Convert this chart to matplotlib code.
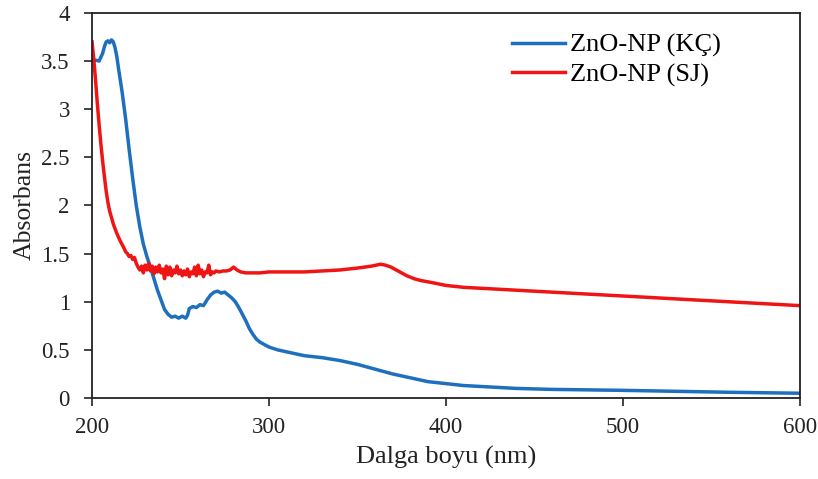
import matplotlib.pyplot as plt

plt.rcParams['font.family'] = ['Liberation Serif', 'DejaVu Serif']

# ZnO-NP (KÇ) spectrum
kc_nm = [200, 202, 204, 206, 207, 208, 209, 210, 211, 212, 213, 214, 215, 217, 219,
         221, 223, 225, 227, 229, 231, 233, 235, 237, 239, 241, 243, 245, 247, 249,
         251, 253, 254, 255, 257, 259, 261, 263, 265, 267, 269, 271, 273, 275, 277,
         279, 281, 283, 285, 287, 289, 291, 293, 295, 298, 300, 305, 310, 315, 320,
         330, 340, 350, 360, 370, 380, 390, 400, 410, 420, 440, 460, 480, 500, 530,
         560, 600]
kc_abs = [3.50, 3.51, 3.50, 3.58, 3.65, 3.70, 3.71, 3.69, 3.72, 3.70, 3.64, 3.55, 3.42, 3.18, 2.90,
          2.58, 2.28, 2.00, 1.78, 1.60, 1.47, 1.36, 1.24, 1.12, 1.02, 0.92, 0.87, 0.84, 0.85, 0.83,
          0.85, 0.83, 0.86, 0.93, 0.95, 0.94, 0.97, 0.96, 1.02, 1.07, 1.10, 1.11, 1.09, 1.10, 1.07,
          1.04, 1.00, 0.94, 0.87, 0.80, 0.72, 0.66, 0.61, 0.58, 0.55, 0.53, 0.50, 0.48, 0.46, 0.44,
          0.42, 0.39, 0.35, 0.30, 0.25, 0.21, 0.17, 0.15, 0.13, 0.12, 0.10, 0.09, 0.085, 0.08, 0.07,
          0.06, 0.05]

# ZnO-NP (SJ) spectrum
sj_nm = [200, 201, 202, 203, 204, 205, 206, 207, 208, 209, 210, 212, 214, 216, 218,
         219, 220, 221, 222, 223, 224, 225, 226, 227, 228, 229, 230, 231, 232, 233,
         234, 235, 236, 237, 238, 239, 240, 241, 242, 243, 244, 245, 246, 247, 248,
         249, 250, 251, 252, 253, 254, 255, 256, 257, 258, 259, 260, 261, 262, 263,
         264, 265, 266, 267, 268, 269, 270, 272, 274, 276, 278, 280, 282, 284, 287,
         290, 295, 300, 310, 320, 330, 340, 350, 358, 363, 366, 369, 372, 375, 378,
         382, 386, 392, 400, 410, 420, 440, 460, 480, 500, 520, 540, 560, 580, 600]
sj_abs = [3.70, 3.52, 3.30, 3.06, 2.84, 2.64, 2.46, 2.30, 2.15, 2.03, 1.94, 1.81, 1.71, 1.63, 1.56,
          1.52, 1.50, 1.47, 1.48, 1.44, 1.46, 1.40, 1.36, 1.33, 1.37, 1.30, 1.38, 1.33, 1.40, 1.32,
          1.37, 1.29, 1.36, 1.31, 1.38, 1.30, 1.34, 1.24, 1.37, 1.28, 1.36, 1.27, 1.33, 1.30, 1.37,
          1.29, 1.33, 1.27, 1.32, 1.28, 1.34, 1.26, 1.31, 1.29, 1.36, 1.27, 1.38, 1.29, 1.33, 1.26,
          1.31, 1.30, 1.38, 1.28, 1.31, 1.30, 1.32, 1.31, 1.32, 1.32, 1.33, 1.36, 1.33, 1.31, 1.30,
          1.30, 1.30, 1.31, 1.31, 1.31, 1.32, 1.33, 1.35, 1.37, 1.39, 1.38, 1.36, 1.33, 1.30, 1.27,
          1.24, 1.22, 1.20, 1.17, 1.15, 1.14, 1.12, 1.10, 1.08, 1.06, 1.04, 1.02, 1.00, 0.98, 0.96]

x_ticks = [200, 300, 400, 500, 600]
y_ticks = [0, 0.5, 1, 1.5, 2, 2.5, 3, 3.5, 4]
y_tick_labels = ['0', '0.5', '1', '1.5', '2', '2.5', '3', '3.5', '4']

fig = plt.figure(figsize=(8.18, 4.79), dpi=100)
ax = fig.add_axes([0.1125, 0.169, 0.865, 0.804])

ax.plot(kc_nm, kc_abs, color='#1f6fbf', linewidth=2.5, label='ZnO-NP (KÇ)')
ax.plot(sj_nm, sj_abs, color='#f01515', linewidth=2.5, label='ZnO-NP (SJ)')

ax.set_xlim(200, 600)
ax.set_ylim(0, 4)
ax.set_xticks(x_ticks)
ax.set_yticks(y_ticks)
ax.set_yticklabels(y_tick_labels)
ax.tick_params(direction='out', length=6, width=1.2, labelsize=16.5, colors='#222222')
ax.tick_params(axis='x', pad=8)
ax.tick_params(axis='y', pad=10)
for sp in ax.spines.values():
    sp.set_linewidth(1.3)
    sp.set_color('#222222')

ax.set_xlabel('Dalga boyu (nm)', fontsize=19, color='#222222', labelpad=5)
ax.set_ylabel('Absorbans', fontsize=18.5, color='#222222', labelpad=4)

ax.legend(loc='upper right', bbox_to_anchor=(0.923, 1.008), frameon=False, fontsize=19,
          handlelength=2.0, labelspacing=0.2, handletextpad=0.2)

fig.savefig('out.png', dpi=100)
